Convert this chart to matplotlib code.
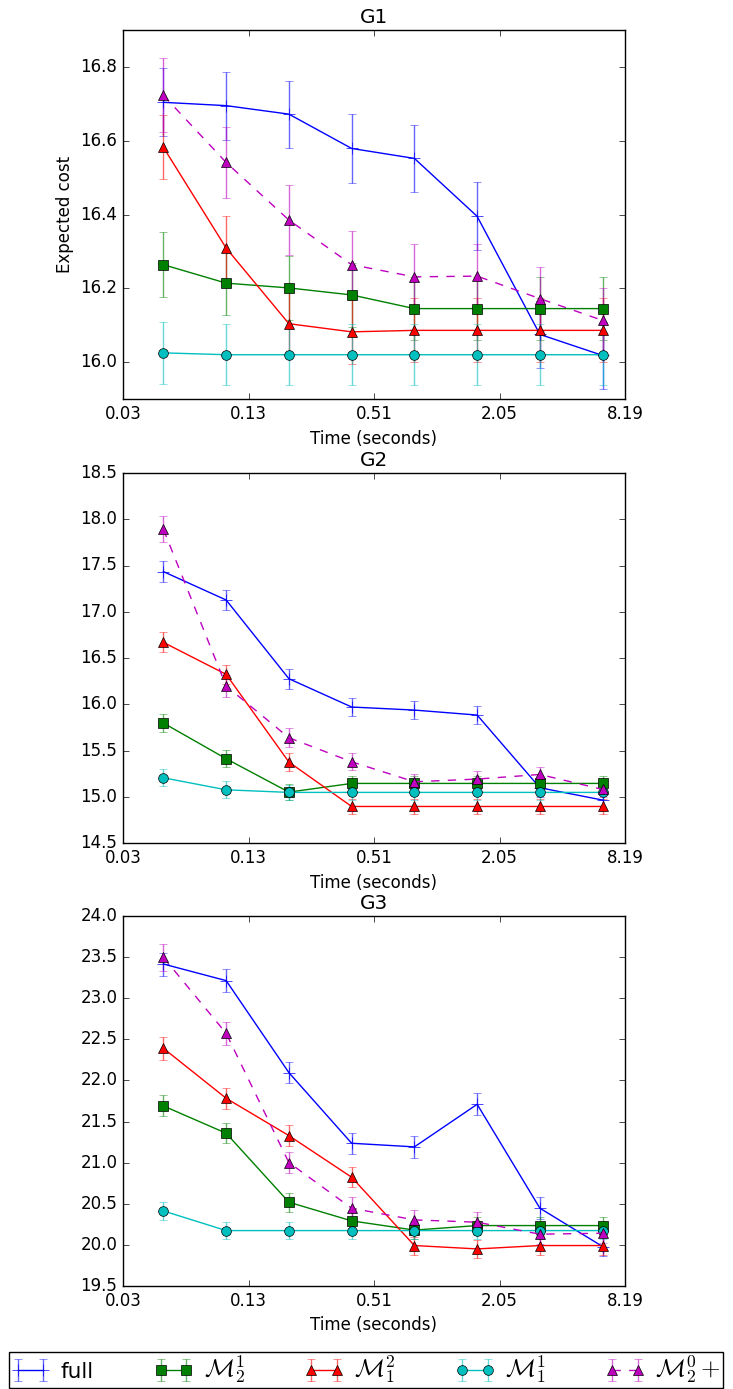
import matplotlib
matplotlib.use("Agg")
import matplotlib.pyplot as plt
from matplotlib.ticker import FixedLocator, NullLocator, FormatStrFormatter

plt.style.use('classic')

times = [0.05, 0.1, 0.2, 0.4, 0.8, 1.6, 3.2, 6.4]
xticks = [0.032, 0.128, 0.512, 2.048, 8.192]
labels = ['full', r'$\mathcal{M}_2^1$', r'$\mathcal{M}_1^2$', r'$\mathcal{M}_1^1$', r'$\mathcal{M}_2^0+$']

# G1
g1_full = [16.704, 16.695, 16.672, 16.579, 16.552, 16.395, 16.075, 16.018]
g1_full_err = [0.092, 0.092, 0.091, 0.093, 0.091, 0.092, 0.090, 0.090]
g1_m21 = [16.264, 16.214, 16.201, 16.182, 16.145, 16.145, 16.145, 16.145]
g1_m21_err = [0.088, 0.087, 0.087, 0.087, 0.086, 0.086, 0.086, 0.085]
g1_m12 = [16.582, 16.309, 16.104, 16.082, 16.086, 16.086, 16.086, 16.086]
g1_m12_err = [0.087, 0.086, 0.087, 0.087, 0.087, 0.087, 0.087, 0.087]
g1_m11 = [16.025, 16.020, 16.020, 16.020, 16.020, 16.020, 16.020, 16.020]
g1_m11_err = [0.083, 0.083, 0.083, 0.083, 0.083, 0.083, 0.083, 0.083]
g1_m20p = [16.723, 16.541, 16.385, 16.264, 16.231, 16.233, 16.172, 16.113]
g1_m20p_err = [0.100, 0.097, 0.096, 0.090, 0.088, 0.088, 0.087, 0.087]

# G2
g2_full = [17.434, 17.127, 16.276, 15.970, 15.937, 15.883, 15.097, 14.964]
g2_full_err = [0.114, 0.106, 0.106, 0.100, 0.100, 0.100, 0.100, 0.100]
g2_m21 = [15.797, 15.411, 15.050, 15.144, 15.144, 15.144, 15.144, 15.144]
g2_m21_err = [0.094, 0.090, 0.085, 0.085, 0.085, 0.085, 0.085, 0.085]
g2_m12 = [16.669, 16.323, 15.375, 14.895, 14.895, 14.895, 14.895, 14.895]
g2_m12_err = [0.108, 0.100, 0.095, 0.080, 0.080, 0.080, 0.080, 0.080]
g2_m11 = [15.205, 15.075, 15.047, 15.047, 15.047, 15.047, 15.047, 15.047]
g2_m11_err = [0.090, 0.090, 0.085, 0.085, 0.085, 0.085, 0.085, 0.085]
g2_m20p = [17.892, 16.197, 15.638, 15.378, 15.162, 15.191, 15.241, 15.079]
g2_m20p_err = [0.139, 0.117, 0.100, 0.094, 0.085, 0.085, 0.085, 0.085]

# G3
g3_full = [23.416, 23.214, 22.095, 21.236, 21.192, 21.710, 20.446, 19.980]
g3_full_err = [0.140, 0.136, 0.130, 0.128, 0.130, 0.136, 0.136, 0.120]
g3_m21 = [21.690, 21.358, 20.519, 20.292, 20.180, 20.235, 20.235, 20.235]
g3_m21_err = [0.128, 0.120, 0.117, 0.110, 0.110, 0.110, 0.110, 0.110]
g3_m12 = [22.391, 21.783, 21.329, 20.823, 19.992, 19.951, 19.992, 19.992]
g3_m12_err = [0.138, 0.130, 0.128, 0.120, 0.110, 0.110, 0.110, 0.110]
g3_m11 = [20.413, 20.174, 20.174, 20.174, 20.174, 20.174, 20.174, 20.174]
g3_m11_err = [0.105, 0.105, 0.105, 0.105, 0.105, 0.105, 0.105, 0.105]
g3_m20p = [23.497, 22.573, 21.001, 20.446, 20.304, 20.276, 20.130, 20.142]
g3_m20p_err = [0.162, 0.142, 0.130, 0.138, 0.120, 0.120, 0.120, 0.120]

g1_yticks = [16.0, 16.2, 16.4, 16.6, 16.8]
g2_yticks = [14.5, 15.0, 15.5, 16.0, 16.5, 17.0, 17.5, 18.0, 18.5]
g3_yticks = [19.5, 20.0, 20.5, 21.0, 21.5, 22.0, 22.5, 23.0, 23.5, 24.0]

panels = [
    ('G1', [g1_full, g1_m21, g1_m12, g1_m11, g1_m20p],
     [g1_full_err, g1_m21_err, g1_m12_err, g1_m11_err, g1_m20p_err], (15.9, 16.9), g1_yticks),
    ('G2', [g2_full, g2_m21, g2_m12, g2_m11, g2_m20p],
     [g2_full_err, g2_m21_err, g2_m12_err, g2_m11_err, g2_m20p_err], (14.5, 18.5), g2_yticks),
    ('G3', [g3_full, g3_m21, g3_m12, g3_m11, g3_m20p],
     [g3_full_err, g3_m21_err, g3_m12_err, g3_m11_err, g3_m20p_err], (19.5, 24.0), g3_yticks),
]

styles = [('b', '+', '-'), ('g', 's', '-'), ('r', '^', '-'), ('c', 'o', '-'), ('m', '^', '--')]

W, H = 733, 1389
fig = plt.figure(figsize=(W / 100, H / 100), dpi=100, facecolor='white')

# axes boxes in pixels: (top, bottom)
boxes = [(30, 399), (473, 843), (916, 1286)]
left_px, right_px = 123, 625

handles = []
for i, (title, series, errs, ylim, yticks) in enumerate(panels):
    top, bot = boxes[i]
    ax = fig.add_axes([left_px / W, 1 - bot / H, (right_px - left_px) / W, (bot - top) / H])
    for (col, mk, ls), ys, es, lab in zip(styles, series, errs, labels):
        cont = ax.errorbar(times, ys, yerr=es, color=col, marker=mk, linestyle=ls,
                           markersize=7 if mk != '+' else 8, mec='k' if mk != '+' else col,
                           label=lab)
        for c in cont[1]:
            c.set_alpha(0.6)
        for c in cont[2]:
            c.set_alpha(0.6)
        if i == 0:
            handles.append(cont)
    ax.set_xscale('log', base=2)
    ax.set_xlim(0.032, 8.192)
    ax.xaxis.set_major_locator(FixedLocator(xticks))
    ax.xaxis.set_minor_locator(NullLocator())
    ax.set_xticklabels(['%.2f' % t for t in xticks])
    ax.set_ylim(*ylim)
    ax.set_yticks(yticks)
    ax.yaxis.set_major_formatter(FormatStrFormatter('%.1f'))
    ax.set_xlabel('Time (seconds)')
    ax.set_title(title)
    if i == 0:
        ax.set_ylabel('Expected cost')

leg = fig.legend(handles, labels, loc='upper left', bbox_to_anchor=(9 / W, 1 - 1352 / H),
                 borderaxespad=0, ncol=5, fontsize=15.5, handlelength=1.8,
                 handletextpad=0.5, columnspacing=2.8, borderpad=0.1)
for t in leg.get_texts()[1:]:
    t.set_fontsize(18)

fig.savefig('out.png', dpi=100, facecolor='white')
